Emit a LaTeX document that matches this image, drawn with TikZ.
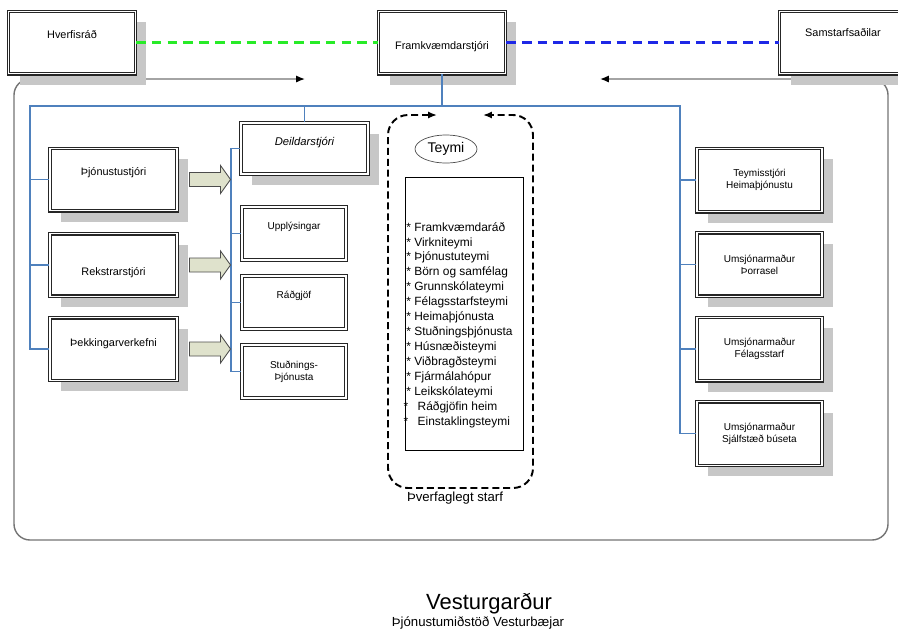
\documentclass[tikz,border=0pt]{standalone}
\usepackage{fontspec}
\setmainfont{Liberation Sans}
\usetikzlibrary{arrows.meta,shapes.geometric,shadows}

\definecolor{orgline}{RGB}{79,129,189}
\definecolor{linkgreen}{RGB}{40,235,40}
\definecolor{linkblue}{RGB}{30,40,230}
\definecolor{arrowfill}{RGB}{223,226,204}

\begin{document}
\begin{tikzpicture}[
  x=0.02cm, y=-0.02cm,
  >=Latex,
  box/.style={draw=black!85,line width=.6pt,double=white,double distance=.8pt,
    fill=white,align=center,inner sep=1pt},
  shade/.style={drop shadow={shadow xshift=.22cm,shadow yshift=-.22cm,
    draw=none,fill=black!22,opacity=1}},
  big/.style={box,shade,minimum width=2.54cm,minimum height=1.25cm,
    font=\fontsize{6.2}{7.4}\selectfont},
  side/.style={box,shade,minimum width=2.5cm,minimum height=1.27cm,
    font=\fontsize{5.7}{7}\selectfont},
  sub/.style={box,minimum width=2.08cm,minimum height=1.06cm,
    font=\fontsize{5.7}{6.8}\selectfont},
  up/.style={text height=5pt,text depth=#1},
  down/.style={text height=#1,text depth=1.5pt},
  link/.style={draw=orgline,line width=.6pt},
  fat/.style={draw=black!70,line width=.5pt,fill=arrowfill},
  frame/.style={draw=black!55,line width=.8pt,rounded corners=.32cm},
  teamframe/.style={line width=1.1pt,dash pattern=on 4pt off 2.2pt,rounded corners=.4cm}
]
  \clip (0,0) rectangle (898,637);

  % Outer frame.
  \draw[frame,{Latex[length=5pt,width=4pt,color=black]}-{Latex[length=5pt,width=4pt,color=black]}]
    (305,79) -- (14,79) -- (14,540) -- (888,540) -- (888,79) -- (600,79);

  % Top row.
  \node[big,up=10pt] (hverf) at (72,42.5) {Hverfisráð};
  \node[big,down=9pt] (fkstj) at (442,42.5) {Framkvæmdarstjóri};
  \node[big,up=12.3pt] (samst) at (843,42.5) {Samstarfsaðilar};
  \draw[linkgreen,line width=1.4pt,dash pattern=on 5.5pt off 3.5pt]
    (hverf.east) -- (fkstj.west);
  \draw[linkblue,line width=1.4pt,dash pattern=on 5.5pt off 3.5pt]
    (fkstj.east) -- (samst.west);

  % Left column.
  \node[big,up=10pt] (jonu) at (113.5,179.5) {Þjónustustjóri};
  \node[big,down=13pt] (rekst) at (113.5,265) {Rekstrarstjóri};
  \node[big,up=8.3pt] (pekk) at (113.5,349) {Þekkingarverkefni};

  % Sections.
  \node[big,up=8.9pt,minimum height=1.02cm,font=\fontsize{6.4}{7.4}\selectfont\itshape]
    (deild) at (304.5,148.5) {Deildarstjóri};
  \node[sub,up=10pt] (uppl) at (294,233.5) {Upplýsingar};
  \node[sub,up=10pt] (radg) at (294,302.5) {Ráðgjöf};
  \node[sub] (stud) at (294,371.5) {Stuðnings-\\Þjónusta};

  % Right column.
  \node[side] (heim) at (759.5,180) {Teymisstjóri\\Heimaþjónustu};
  \node[side] (porr) at (759.5,264.5) {Umsjónarmaður\\Þorrasel};
  \node[side] (fel) at (759.5,349) {Umsjónarmaður\\Félagsstarf};
  \node[side] (bus) at (759.5,433.5) {Umsjónarmaður\\Sjálfstæð búseta};

  % Lines of the chart.
  \coordinate (busL) at (30,106);
  \coordinate (busR) at (680,106);
  \coordinate (busM) at (231,148.5);
  \draw[link] (fkstj.south) |- (busL) |- (jonu.west);
  \draw[link] (busL) |- (rekst.west);
  \draw[link] (busL) |- (pekk.west);
  \draw[link] (fkstj.south) |- (busR) |- (heim.west);
  \draw[link] (busR) |- (porr.west);
  \draw[link] (busR) |- (fel.west);
  \draw[link] (busR) |- (bus.west);
  \draw[link] (deild.north) -- (deild.north |- busL);
  \draw[link] (deild.west) -- (busM) |- (uppl.west);
  \draw[link] (busM) |- (radg.west);
  \draw[link] (busM) |- (stud.west);

  \foreach \n in {jonu,rekst,pekk}
    \draw[fat] ([shift={(12,-7)}]\n.east) -- ++(31,0) -- ++(0,-7) -- ++(10,14)
      -- ++(-10,14) -- ++(0,-7) -- ++(-31,0) -- cycle;

  % Teams.
  \draw[teamframe,{Latex[length=5pt,width=4pt]}-{Latex[length=5pt,width=4pt]}]
    (437,115) -- (388,115) -- (388,488) -- (533,488) -- (533,115) -- (483,115);
  \node[draw=black!70,ellipse,line width=.4pt,minimum width=1.24cm,minimum height=.56cm,
    inner sep=0pt,font=\fontsize{8}{9}\selectfont] (teymi) at (446,149) {Teymi};
  \node[draw,line width=.5pt,minimum width=2.36cm,minimum height=5.46cm]
    (teamlist) at (464,313.5) {};
  \node[anchor=west,align=left,inner sep=0pt,font=\fontsize{6.8}{8.5}\selectfont]
    (teams) at (406,325) {%
    * Framkvæmdaráð\\
    * Virkniteymi\\
    * Þjónustuteymi\\
    * Börn og samfélag\\
    * Grunnskólateymi\\
    * Félagsstarfsteymi\\
    * Heimaþjónusta\\
    * Stuðningsþjónusta\\
    * Húsnæðisteymi\\
    * Viðbragðsteymi\\
    * Fjármálahópur\\
    * Leikskólateymi\\
    \kern-1.5pt*\kern1.5pt\ \ Ráðgjöfin heim\\
    \kern-1.5pt*\kern1.5pt\ \ Einstaklingsteymi};
  \node[font=\fontsize{7.5}{9}\selectfont] (pverf) at (455,498) {Þverfaglegt starf};

  % Title.
  \node[font=\fontsize{12.5}{14}\selectfont] (title) at (489,604) {Vesturgarður};
  \node[font=\fontsize{7.5}{9}\selectfont] (subtitle) at (478,623)
    {Þjónustumiðstöð Vesturbæjar};
\end{tikzpicture}
\end{document}
